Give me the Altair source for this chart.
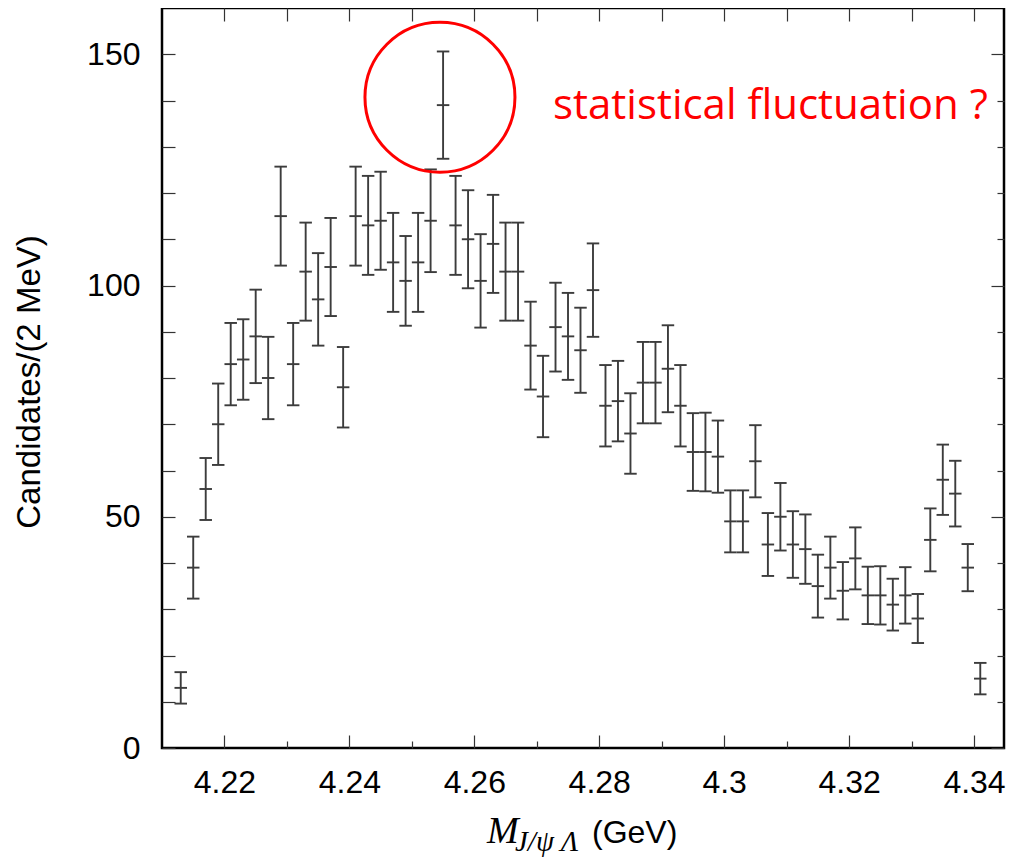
import altair as alt
import pandas as pd

# ---- data (2 MeV bins) ----
mass_gev = [4.213, 4.215, 4.217, 4.219, 4.221, 4.223, 4.225, 4.227, 4.229, 4.231,
            4.233, 4.235, 4.237, 4.239, 4.241, 4.243, 4.245, 4.247, 4.249, 4.251,
            4.253, 4.255, 4.257, 4.259, 4.261, 4.263, 4.265, 4.267, 4.269, 4.271,
            4.273, 4.275, 4.277, 4.279, 4.281, 4.283, 4.285, 4.287, 4.289, 4.291,
            4.293, 4.295, 4.297, 4.299, 4.301, 4.303, 4.305, 4.307, 4.309, 4.311,
            4.313, 4.315, 4.317, 4.319, 4.321, 4.323, 4.325, 4.327, 4.329, 4.331,
            4.333, 4.335, 4.337, 4.339, 4.341]
candidates = [13, 39, 56, 70, 83, 84, 89, 80, 115, 83,
              103, 97, 104, 78, 115, 113, 114, 105, 101, 105,
              114, 139, 113, 110, 101, 109, 103, 103, 87, 76,
              91, 89, 86, 99, 74, 75, 68, 79, 79, 82,
              74, 64, 64, 63, 49, 49, 62, 44, 50, 44,
              43, 35, 39, 34, 41, 33, 33, 31, 33, 28,
              45, 58, 55, 39, 15]
errors = [3.4, 6.7, 6.7, 8.8, 8.9, 8.7, 10.1, 8.9, 10.7, 8.9,
          10.6, 10.0, 10.6, 8.7, 10.7, 10.7, 10.6, 10.7, 9.7, 10.7,
          11.1, 11.6, 10.7, 10.6, 10.1, 10.6, 10.6, 10.6, 9.5, 8.8,
          9.6, 9.4, 9.2, 10.1, 8.8, 8.7, 8.7, 8.8, 8.8, 9.4,
          8.8, 8.4, 8.5, 7.8, 6.7, 6.7, 7.8, 6.8, 7.3, 7.2,
          7.5, 6.8, 6.7, 6.2, 6.7, 6.2, 6.3, 5.6, 6.1, 5.3,
          6.8, 7.6, 7.1, 5.1, 3.4]
bin_half_width = 0.001

x_major = [4.22, 4.24, 4.26, 4.28, 4.30, 4.32, 4.34]
x_minor = [4.23, 4.25, 4.27, 4.29, 4.31, 4.33]
y_major = [0, 50, 100, 150]
y_minor = [10, 20, 30, 40, 60, 70, 80, 90, 110, 120, 130, 140]

note_text = "statistical fluctuation ?"
y_title = "Candidates/(2 MeV)"
x_title_main = "M"
x_title_sub = "J/ψ Λ"
x_title_unit = "(GeV)"

# ---- table ----
df = pd.DataFrame({"mass": mass_gev, "count": candidates, "err": errors})
df["lo"] = df["count"] - df["err"]
df["hi"] = df["count"] + df["err"]
df["left"] = df["mass"] - bin_half_width
df["right"] = df["mass"] + bin_half_width

ann = pd.DataFrame({"cx": [4.2545], "cy": [140.7], "nx": [4.2726], "ny": [136.0]})

W, H = 842, 740
xscale = alt.Scale(domain=[4.21, 4.3448], nice=False, zero=False)
yscale = alt.Scale(domain=[0, 160], nice=False, zero=False)
ebcol = "#3c3c3c"
tickcol = "#333333"
sans = "Liberation Sans"

common = dict(grid=False, domain=False, title="")
tick_common = dict(labels=False, ticks=True, tickColor=tickcol, tickWidth=1.2, **common)

ax_x_labels = alt.Axis(orient="bottom", values=x_major, format=".3~g", ticks=False,
                       labelFontSize=32, labelFont=sans, labelColor="black",
                       labelPadding=19, labelFlush=False, **common)
ax_x_bot_major = alt.Axis(orient="top", offset=-H, values=x_major, tickSize=13, **tick_common)
ax_x_bot_minor = alt.Axis(orient="top", offset=-H, values=x_minor, tickSize=7, **tick_common)
ax_x_top = alt.Axis(orient="bottom", offset=-H, values=x_major + x_minor, tickSize=13, **tick_common)

ax_y_labels = alt.Axis(orient="left", values=y_major, ticks=False,
                       labelFontSize=32, labelFont=sans, labelColor="black",
                       labelPadding=22, labelFlush=False, **common)
ax_y_left = alt.Axis(orient="right", offset=-W, values=y_major + y_minor, tickSize=13, **tick_common)
ax_y_right_major = alt.Axis(orient="left", offset=-W, values=y_major, tickSize=13, **tick_common)
ax_y_right_minor = alt.Axis(orient="left", offset=-W, values=y_minor, tickSize=7, **tick_common)

base = alt.Chart(df)

vbar = base.mark_rule(color=ebcol, strokeWidth=1.9).encode(
    x=alt.X("mass:Q", scale=xscale, axis=ax_x_labels),
    y=alt.Y("lo:Q", scale=yscale, axis=ax_y_labels),
    y2="hi:Q",
)
hbar = base.mark_rule(color=ebcol, strokeWidth=1.9).encode(
    x=alt.X("left:Q", scale=xscale, axis=ax_x_bot_major),
    x2="right:Q",
    y=alt.Y("count:Q", scale=yscale, axis=ax_y_left),
)
cap_lo = base.mark_rule(color=ebcol, strokeWidth=1.9).encode(
    x=alt.X("left:Q", scale=xscale, axis=ax_x_bot_minor),
    x2="right:Q",
    y=alt.Y("lo:Q", scale=yscale, axis=ax_y_right_major),
)
cap_hi = base.mark_rule(color=ebcol, strokeWidth=1.9).encode(
    x=alt.X("left:Q", scale=xscale, axis=ax_x_top),
    x2="right:Q",
    y=alt.Y("hi:Q", scale=yscale, axis=ax_y_right_minor),
)

abase = alt.Chart(ann)
circle = abase.mark_point(shape="circle", size=22500, filled=False, stroke="#ff0000",
                          strokeWidth=3, opacity=1).encode(
    x=alt.X("cx:Q", scale=xscale, axis=None),
    y=alt.Y("cy:Q", scale=yscale, axis=None),
)
note = abase.mark_text(text=note_text, font="Open Sans", fontSize=42, color="#ff0000",
                       align="left", baseline="alphabetic").encode(
    x=alt.X("nx:Q", scale=xscale, axis=None),
    y=alt.Y("ny:Q", scale=yscale, axis=None),
)

xt_main = abase.mark_text(text=x_title_main, font="Liberation Serif", fontStyle="italic",
                          fontSize=38, color="black", align="left", baseline="alphabetic").encode(
    x=alt.value(325), y=alt.value(835))
xt_sub = abase.mark_text(text=x_title_sub, font="Liberation Serif", fontStyle="italic",
                         fontSize=29, color="black", align="left", baseline="alphabetic").encode(
    x=alt.value(353), y=alt.value(843))
xt_unit = abase.mark_text(text=x_title_unit, font=sans, fontSize=32, color="black",
                          align="left", baseline="alphabetic").encode(
    x=alt.value(430), y=alt.value(835))
yt = abase.mark_text(text=y_title, font=sans, fontSize=33, color="black", angle=270,
                     align="center", baseline="alphabetic").encode(
    x=alt.value(-122), y=alt.value(374))

chart = alt.layer(vbar, hbar, cap_lo, cap_hi, circle, note, xt_main, xt_sub, xt_unit, yt).resolve_axis(
    x="independent", y="independent"
).properties(
    width=W, height=H,
    autosize=alt.AutoSizeParams(type="none"),
    padding={"left": 154, "top": 0, "right": 5, "bottom": 111},
    background="white",
).configure_view(stroke="black", strokeWidth=2.5)

chart.save("out.html", embed_options={"renderer": "svg", "actions": False})
